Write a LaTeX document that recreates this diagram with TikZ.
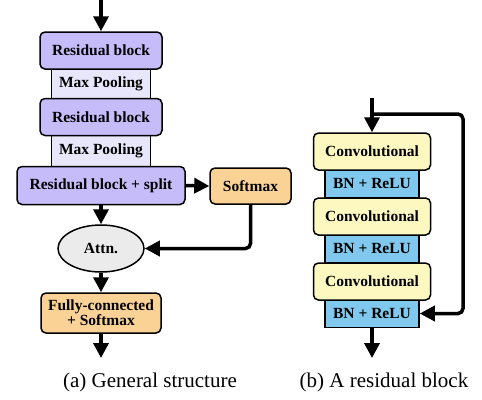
\documentclass[tikz,border=0pt]{standalone}
\usepackage{fontspec}
\setmainfont{Liberation Serif}
\usetikzlibrary{shapes.geometric,arrows.meta}
\definecolor{rbcol}{RGB}{198,188,250}
\definecolor{mpcol}{RGB}{232,230,250}
\definecolor{smcol}{RGB}{250,210,150}
\definecolor{atcol}{RGB}{235,235,235}
\definecolor{cvcol}{RGB}{252,248,192}
\definecolor{bncol}{RGB}{128,200,238}
\tikzset{
  box/.style={draw=black,line width=1.5pt,rounded corners=5pt,align=center,
    font=\fontsize{15.5}{15}\selectfont\bfseries,inner sep=0pt},
  flat/.style={draw=black,line width=1.5pt,align=center,
    font=\fontsize{15.5}{15}\selectfont\bfseries,inner sep=0pt},
  conn/.style={line width=3.5pt,-{Triangle[length=15pt,width=15pt]}},
  captext/.style={font=\fontsize{21}{21}\selectfont}
}
\begin{document}
\begin{tikzpicture}[x=1pt,y=-1pt]
\useasboundingbox (0,0) rectangle (482,399);
% left panel
\node[flat,fill=mpcol,minimum width=99pt,minimum height=31pt] (mp1) at (101,83.5) {Max Pooling};
\node[flat,fill=mpcol,minimum width=99pt,minimum height=32pt] (mp2) at (101,151) {Max Pooling};
\node[box,fill=rbcol,minimum width=122pt,minimum height=37pt] (rb1) at (101,50.5) {Residual block};
\node[box,fill=rbcol,minimum width=122pt,minimum height=37pt] (rb2) at (101,117) {Residual block};
\node[box,fill=rbcol,minimum width=168pt,minimum height=38pt] (split) at (101,185.5) {Residual block + split};
\node[box,fill=smcol,minimum width=81pt,minimum height=36pt] (sm) at (250.5,186) {Softmax};
\node[draw=black,line width=1.5pt,ellipse,fill=atcol,minimum width=86pt,minimum height=47pt,inner sep=0pt,
  font=\fontsize{15.5}{15}\selectfont\bfseries] (attn) at (101,248.5) {Attn.};
\node[box,fill=smcol,minimum width=120pt,minimum height=40pt,font=\fontsize{15.5}{14}\selectfont\bfseries] (fc) at (101,313) {Fully-connected\\+ Softmax};
\coordinate (ain) at (101,0);
\coordinate (aout) at (101,358);
\draw[conn] (ain) -- (rb1.north);
\draw[conn] (split.east) -- (sm.west);
\draw[conn] (split.south) -- (attn.north);
\draw[conn,rounded corners=5pt] (sm.south) |- (attn.east);
\draw[conn] (attn.south) -- (fc.north);
\draw[conn] (fc.south) -- (aout);
\node[captext] (capa) at (150,382) {(a) General structure};
% right panel
\node[flat,fill=bncol,minimum width=94pt,minimum height=28pt] (bn1) at (372,183.5) {BN + ReLU};
\node[flat,fill=bncol,minimum width=94pt,minimum height=28pt] (bn2) at (372,248.5) {BN + ReLU};
\node[flat,fill=bncol,minimum width=94pt,minimum height=28pt] (bn3) at (372,313.5) {BN + ReLU};
\node[box,fill=cvcol,minimum width=117pt,minimum height=37pt] (cv1) at (372,151.5) {Convolutional};
\node[box,fill=cvcol,minimum width=117pt,minimum height=37pt] (cv2) at (372,216.5) {Convolutional};
\node[box,fill=cvcol,minimum width=117pt,minimum height=37pt] (cv3) at (372,281.5) {Convolutional};
\coordinate (bin) at (372,98);
\coordinate (tap) at (372,114);
\coordinate (bout) at (372,358);
\draw[conn] (bin) -- (cv1.north);
\draw[conn,rounded corners=5pt] (tap) -- (463,114) |- (bn3.east);
\draw[conn] (bn3.south) -- (bout);
\node[captext] (capb) at (384,382) {(b) A residual block};
\end{tikzpicture}
\end{document}
